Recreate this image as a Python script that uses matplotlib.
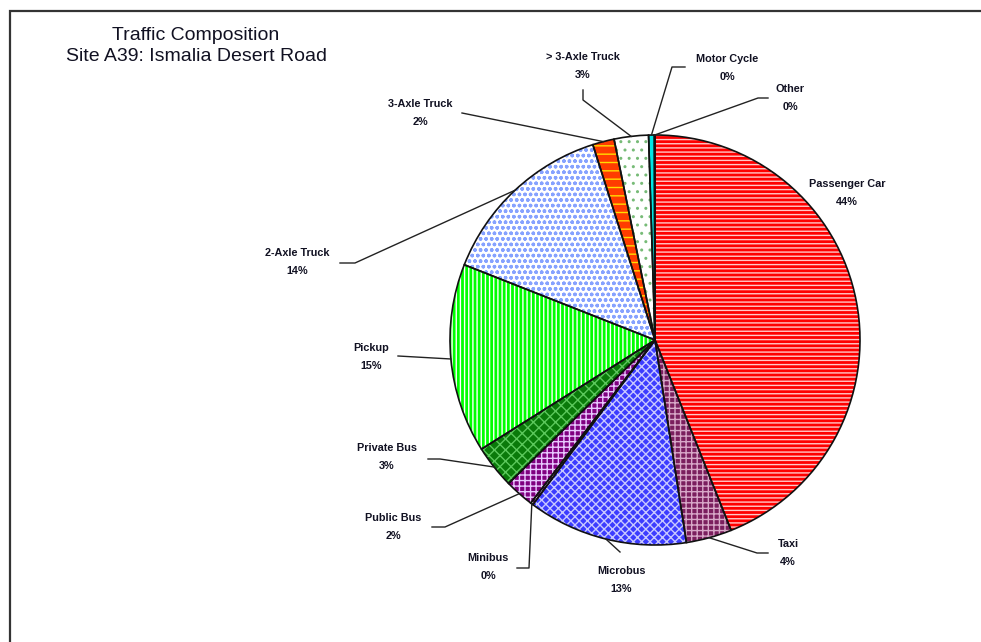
import matplotlib.pyplot as plt
from matplotlib.patches import Rectangle
import numpy as np

categories = ["Passenger Car", "Taxi", "Microbus", "Minibus", "Public Bus",
              "Private Bus", "Pickup", "2-Axle Truck", "3-Axle Truck",
              "> 3-Axle Truck", "Motor Cycle", "Other"]
shares = [43.9, 3.6, 12.6, 0.2, 2.3, 3.4, 14.9, 14.1, 1.7, 2.7, 0.45, 0.05]

face_colors = ["#ff0000", "#7b1f5e", "#3c3cff", "#6a0a6a", "#800080", "#0a7a0a",
               "#00ff00", "#ffffff", "#ff3c00", "#ffffff", "#00e5e5", "#ffffff"]
hatches = ["----", "+++", "xxxx", "+++", "+++", "xxx",
           "||||", "ooo", "--", "..", "", ""]
hatch_colors = ["#ffc8c8", "#d8a8c8", "#c8c8ff", "#ffffff", "#e8c8ff", "#5cc85c",
                "#ffffff", "#86a2ff", "#ffdd00", "#77bb77", "#00e5e5", "#ffffff"]

W, H = 981, 642
plt.rcParams["hatch.linewidth"] = 1.0

fig = plt.figure(figsize=(W / 100, H / 100), dpi=100)
ax = fig.add_axes([0, 0, 1, 1])


def P(x, y):
    # pixel position (y measured from top) -> data coordinates
    return x, H - y


cx, cy = P(655, 340)
r = 205

wedges, _ = ax.pie(shares, colors=face_colors, hatch=hatches, startangle=90,
                   counterclock=False, center=(cx, cy), radius=r, frame=True,
                   wedgeprops=dict(linewidth=0))
for w, hc in zip(wedges, hatch_colors):
    w.set_edgecolor(hc)

ax.pie(shares, colors=["none"] * len(shares), startangle=90, counterclock=False,
       center=(cx, cy), radius=r, frame=True,
       wedgeprops=dict(fill=False, edgecolor="#111111", linewidth=1.2))

# label text centres and leader line points (pixels, y from top)
label_pos = [(847, 193), (788, 553), (621, 580), (488, 567), (393, 527),
             (387, 457), (371, 357), (297, 262), (420, 113), (583, 66),
             (727, 68), (790, 98)]
leaders = [None,
           [(757, 553), (768, 553)],
           [(620, 552)],
           [(529, 568), (517, 568)],
           [(445, 527), (432, 527)],
           [(440, 459), (428, 459)],
           [(398, 356)],
           [(355, 263), (340, 263)],
           [(462, 113)],
           [(583, 100), (583, 90)],
           [(672, 67), (685, 67)],
           [(758, 98), (768, 98)]]

for w, name, v, pos, lead in zip(wedges, categories, shares, label_pos, leaders):
    if lead is not None:
        theta = np.deg2rad((w.theta1 + w.theta2) / 2)
        ax_x = cx + r * np.cos(theta)
        ax_y = cy + r * np.sin(theta)
        xs = [ax_x] + [p[0] for p in lead]
        ys = [ax_y] + [H - p[1] for p in lead]
        ax.plot(xs, ys, color="#222222", linewidth=1.0)
    ax.text(*P(*pos), f"{name}\n{v:.0f}%", ha="center", va="center",
            fontsize=7.8, fontweight="bold", family="Liberation Sans",
            color="#111122", linespacing=1.95)

ax.text(*P(196, 46), "Traffic Composition\nSite A39: Ismalia Desert Road",
        ha="center", va="center", fontsize=14, family="Liberation Sans",
        color="#111122", linespacing=1.38)

ax.add_patch(Rectangle(P(10, 700), 1000, 689, fill=False, edgecolor="#333333",
                       linewidth=1.6))

ax.set_xlim(0, W)
ax.set_ylim(0, H)
ax.set_aspect("equal")
ax.axis("off")

fig.savefig("out.png", dpi=100)
